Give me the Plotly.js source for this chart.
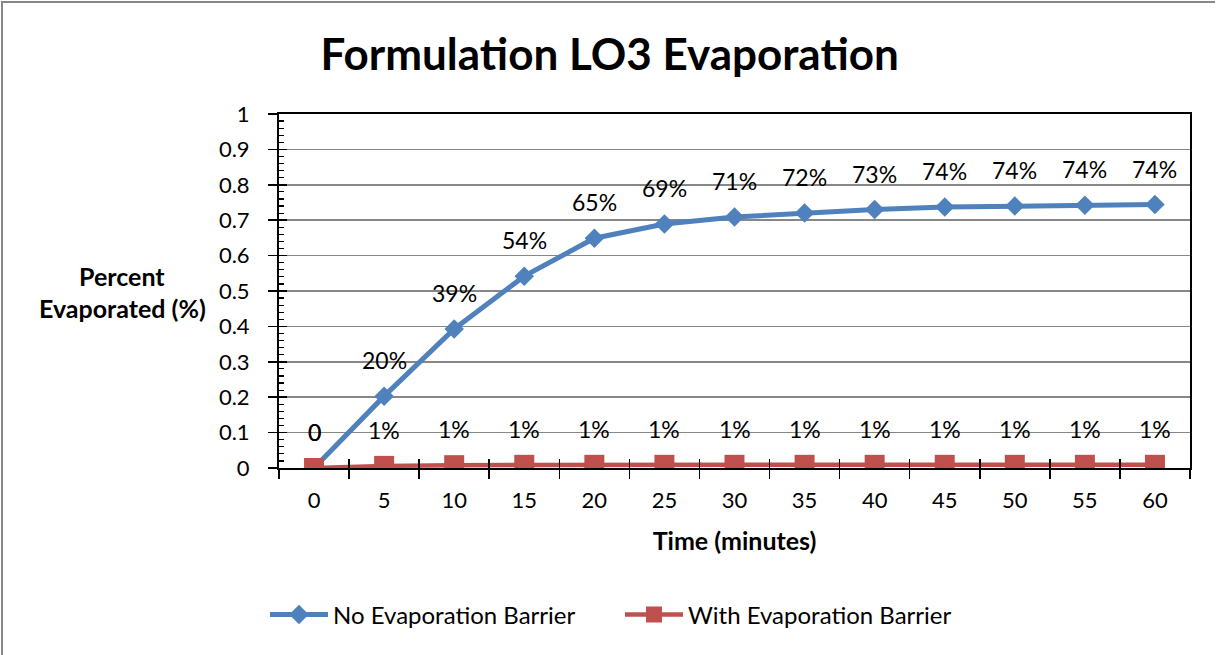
<!DOCTYPE html>
<html>
<head>
<meta charset="utf-8">
<script src="https://cdn.plot.ly/plotly-3.0.1.min.js"></script>
<style>
  html, body { margin: 0; padding: 0; background: #fff; }
  #wrap { position: relative; width: 1217px; height: 655px; overflow: hidden; }
  #chart { width: 1217px; height: 655px; }
  #frame { position: absolute; left: 1px; top: 1px; width: 1212px; height: 700px;
           border-left: 2px solid #878787; border-top: 2px solid #878787; pointer-events: none; }
</style>
</head>
<body>
<div id="wrap"><div id="chart"></div><div id="frame"></div></div>
<script>
const timeMinutes = [0, 5, 10, 15, 20, 25, 30, 35, 40, 45, 50, 55, 60];
const noBarrier = [0, 0.203, 0.393, 0.542, 0.649, 0.689, 0.709, 0.72, 0.73, 0.737, 0.740, 0.742, 0.744];
const withBarrier = [0, 0.006, 0.008, 0.009, 0.009, 0.009, 0.009, 0.009, 0.009, 0.009, 0.009, 0.009, 0.009];
const seriesNames = ['No Evaporation Barrier', 'With Evaporation Barrier'];
const chartTitle = 'Formulation LO3 Evaporation';
const xTitle = 'Time (minutes)';
const yTitleLines = ['Percent', 'Evaporated (%)'];

const FONT = 'Lato, Carlito, Calibri, sans-serif';
const BLUE = '#4F81BD', RED = '#C0504D';
const cats = timeMinutes.map(String);

function fmt(v) { return v === 0 ? '0' : Math.round(v * 100) + '%'; }

const traces = [
  { x: cats, y: noBarrier, name: seriesNames[0], type: 'scatter', mode: 'lines+markers',
    line: { color: BLUE, width: 5 }, marker: { symbol: 'diamond', size: 15, color: BLUE },
    hoverinfo: 'skip', legend: 'legend' },
  { x: cats, y: withBarrier, name: seriesNames[1], type: 'scatter', mode: 'lines+markers',
    line: { color: RED, width: 4.5 }, marker: { symbol: 'square', size: 20, color: RED },
    hoverinfo: 'skip', legend: 'legend2' },
  { x: cats, y: noBarrier, xaxis: 'x2', yaxis: 'y2', type: 'scatter', mode: 'markers',
    marker: { opacity: 0 }, showlegend: false, hoverinfo: 'skip' }
];

const annotations = [];
[noBarrier, withBarrier].forEach(function (arr) {
  arr.forEach(function (v, i) {
    annotations.push({ x: i, y: v, xref: 'x', yref: 'y', text: fmt(v), showarrow: false,
      yshift: 36, yanchor: 'middle', xanchor: 'center',
      font: { family: FONT, size: 23, color: '#000' } });
  });
});
yTitleLines.forEach(function (t, k) {
  annotations.push({ x: -0.1723, y: k === 0 ? 0.542 : 0.452, xref: 'paper', yref: 'paper',
    text: '<b>' + t + '</b>', showarrow: false, xanchor: 'center', yanchor: 'middle',
    font: { family: FONT, size: 25, color: '#000' } });
});

const layout = {
  width: 1217, height: 655,
  margin: { l: 279, r: 27, t: 114, b: 187 },
  paper_bgcolor: '#fff', plot_bgcolor: '#fff',
  font: { family: FONT, color: '#000', size: 21 },
  title: { text: '<b>' + chartTitle + '</b>', x: 0.501, xref: 'container', xanchor: 'center',
           y: 1 - 55 / 655, yref: 'container', yanchor: 'middle',
           font: { family: FONT, size: 44, color: '#000' } },
  xaxis: { type: 'category', range: [-0.5, 12.5], showline: true, linecolor: '#000', linewidth: 2,
           mirror: true, ticks: 'outside', ticklen: 9, tickwidth: 1.5, tickcolor: '#000',
           tickson: 'boundaries', showgrid: false, zeroline: false,
           ticklabelstandoff: 12, tickfont: { family: FONT, size: 22 },
           title: { text: '<b>' + xTitle + '</b>', standoff: 20, font: { family: FONT, size: 25 } } },
  xaxis2: { type: 'category', overlaying: 'x', anchor: 'y', range: [-0.5, 12.5], ticks: 'inside', ticklen: 9,
            tickwidth: 1.5, tickcolor: '#000', tickson: 'boundaries', showticklabels: false,
            showgrid: false, zeroline: false, showline: false },
  yaxis: { range: [0, 1], dtick: 0.1, showline: true, linecolor: '#000', linewidth: 2, mirror: true,
           ticks: 'outside', ticklen: 9, tickwidth: 1.5, tickcolor: '#000',
           showgrid: true, gridcolor: '#878787', gridwidth: 1.5, zeroline: false,
           ticklabelstandoff: 14, tickfont: { family: FONT, size: 22 } },
  yaxis2: { range: [0, 1], overlaying: 'y', anchor: 'x', side: 'left', dtick: 0.1,
            ticks: 'inside', ticklen: 8, tickwidth: 1.5, tickcolor: '#000', showticklabels: false,
            showgrid: false, zeroline: false, showline: false,
            minor: { ticks: 'inside', ticklen: 5, dtick: 0.02, tickwidth: 1.2, tickcolor: '#000', showgrid: false } },
  showlegend: true,
  legend: { orientation: 'h', x: 265 / 1217, xref: 'container', xanchor: 'left',
            y: 1 - 615 / 655, yref: 'container', yanchor: 'middle', itemwidth: 58,
            font: { family: FONT, size: 24, color: '#000' }, bgcolor: 'rgba(0,0,0,0)' },
  legend2: { orientation: 'h', x: 620 / 1217, xref: 'container', xanchor: 'left',
            y: 1 - 615 / 655, yref: 'container', yanchor: 'middle', itemwidth: 58,
            font: { family: FONT, size: 24, color: '#000' }, bgcolor: 'rgba(0,0,0,0)' },
  annotations: annotations
};

Plotly.newPlot('chart', traces, layout, { displayModeBar: false, staticPlot: true });
</script>
</body>
</html>
